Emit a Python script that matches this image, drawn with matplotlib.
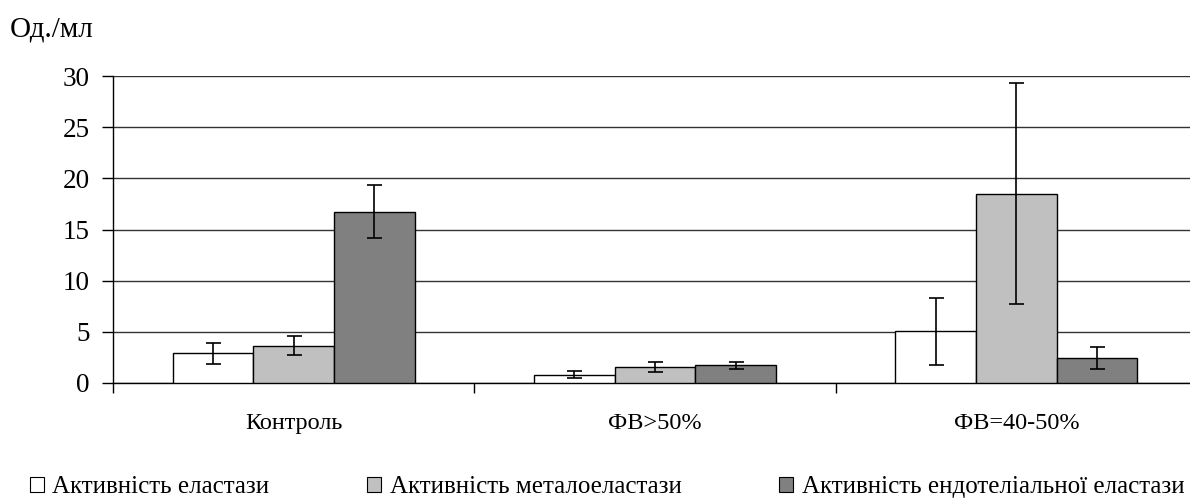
import matplotlib
matplotlib.use("Agg")
import matplotlib.pyplot as plt
import numpy as np
from matplotlib.patches import Patch

categories = ["Контроль", "ФВ>50%", "ФВ=40-50%"]
series_names = ["Активність еластази", "Активність металоеластази",
                "Активність ендотеліальної еластази"]
elastase = [2.9, 0.8, 5.05]
elastase_err = [1.0, 0.35, 3.3]
metallo = [3.65, 1.55, 18.5]
metallo_err = [0.95, 0.5, 10.8]
endo = [16.75, 1.75, 2.45]
endo_err = [2.55, 0.35, 1.05]
yticks = [0, 5, 10, 15, 20, 25, 30]
ylabel = "Од./мл"

colors = ["#FFFFFF", "#C0C0C0", "#808080"]
values = [elastase, metallo, endo]
errors = [elastase_err, metallo_err, endo_err]

plt.rcParams['font.family'] = ['Liberation Serif', 'DejaVu Serif']

fig = plt.figure(figsize=(11.9, 4.99), dpi=100)
ax = fig.add_axes([113/1190, 1-383/499, (1197-113)/1190, (383-76)/499])

x = np.arange(len(categories))
w = 0.2235
for i in range(3):
    ax.bar(x + (i-1)*w, values[i], width=w, color=colors[i], edgecolor='black',
           linewidth=1.0, zorder=3)
    ax.errorbar(x + (i-1)*w, values[i], yerr=errors[i], fmt='none', ecolor='black',
                elinewidth=1.2, capsize=5.4, capthick=1.2, zorder=4)

ax.set_xlim(-0.5, 2.5)
ax.set_ylim(0, 30)
ax.set_yticks(yticks)
ax.yaxis.grid(True, color='#333333', linewidth=1.0, zorder=0)
ax.set_axisbelow(True)
for s in ['top', 'right']:
    ax.spines[s].set_visible(False)
ax.spines['left'].set_linewidth(1.0)
ax.spines['bottom'].set_linewidth(1.0)
ax.tick_params(axis='y', labelsize=19.5, length=8, width=1, pad=9)
ax.set_xticks([-0.5, 0.5, 1.5, 2.5])
ax.set_xticklabels([])
ax.tick_params(axis='x', which='major', length=7, width=1)
ax.set_xticks(x, minor=True)
ax.set_xticklabels(categories, minor=True)
ax.tick_params(axis='x', which='minor', length=0, labelsize=17.5, pad=21.5)

fig.text(10/1190, 1-29/499, ylabel, fontsize=21, ha='left', va='center')

handles = [Patch(facecolor=colors[i], edgecolor='black', linewidth=0.8) for i in range(3)]
fig.legend(handles, series_names, loc='center left', bbox_to_anchor=(30/1190, 1-487/499),
           ncol=3, frameon=False, fontsize=18, handlelength=0.55, handleheight=0.55,
           handletextpad=0.35, columnspacing=3.9, borderaxespad=0, borderpad=0)

fig.savefig("out.png", dpi=100)
